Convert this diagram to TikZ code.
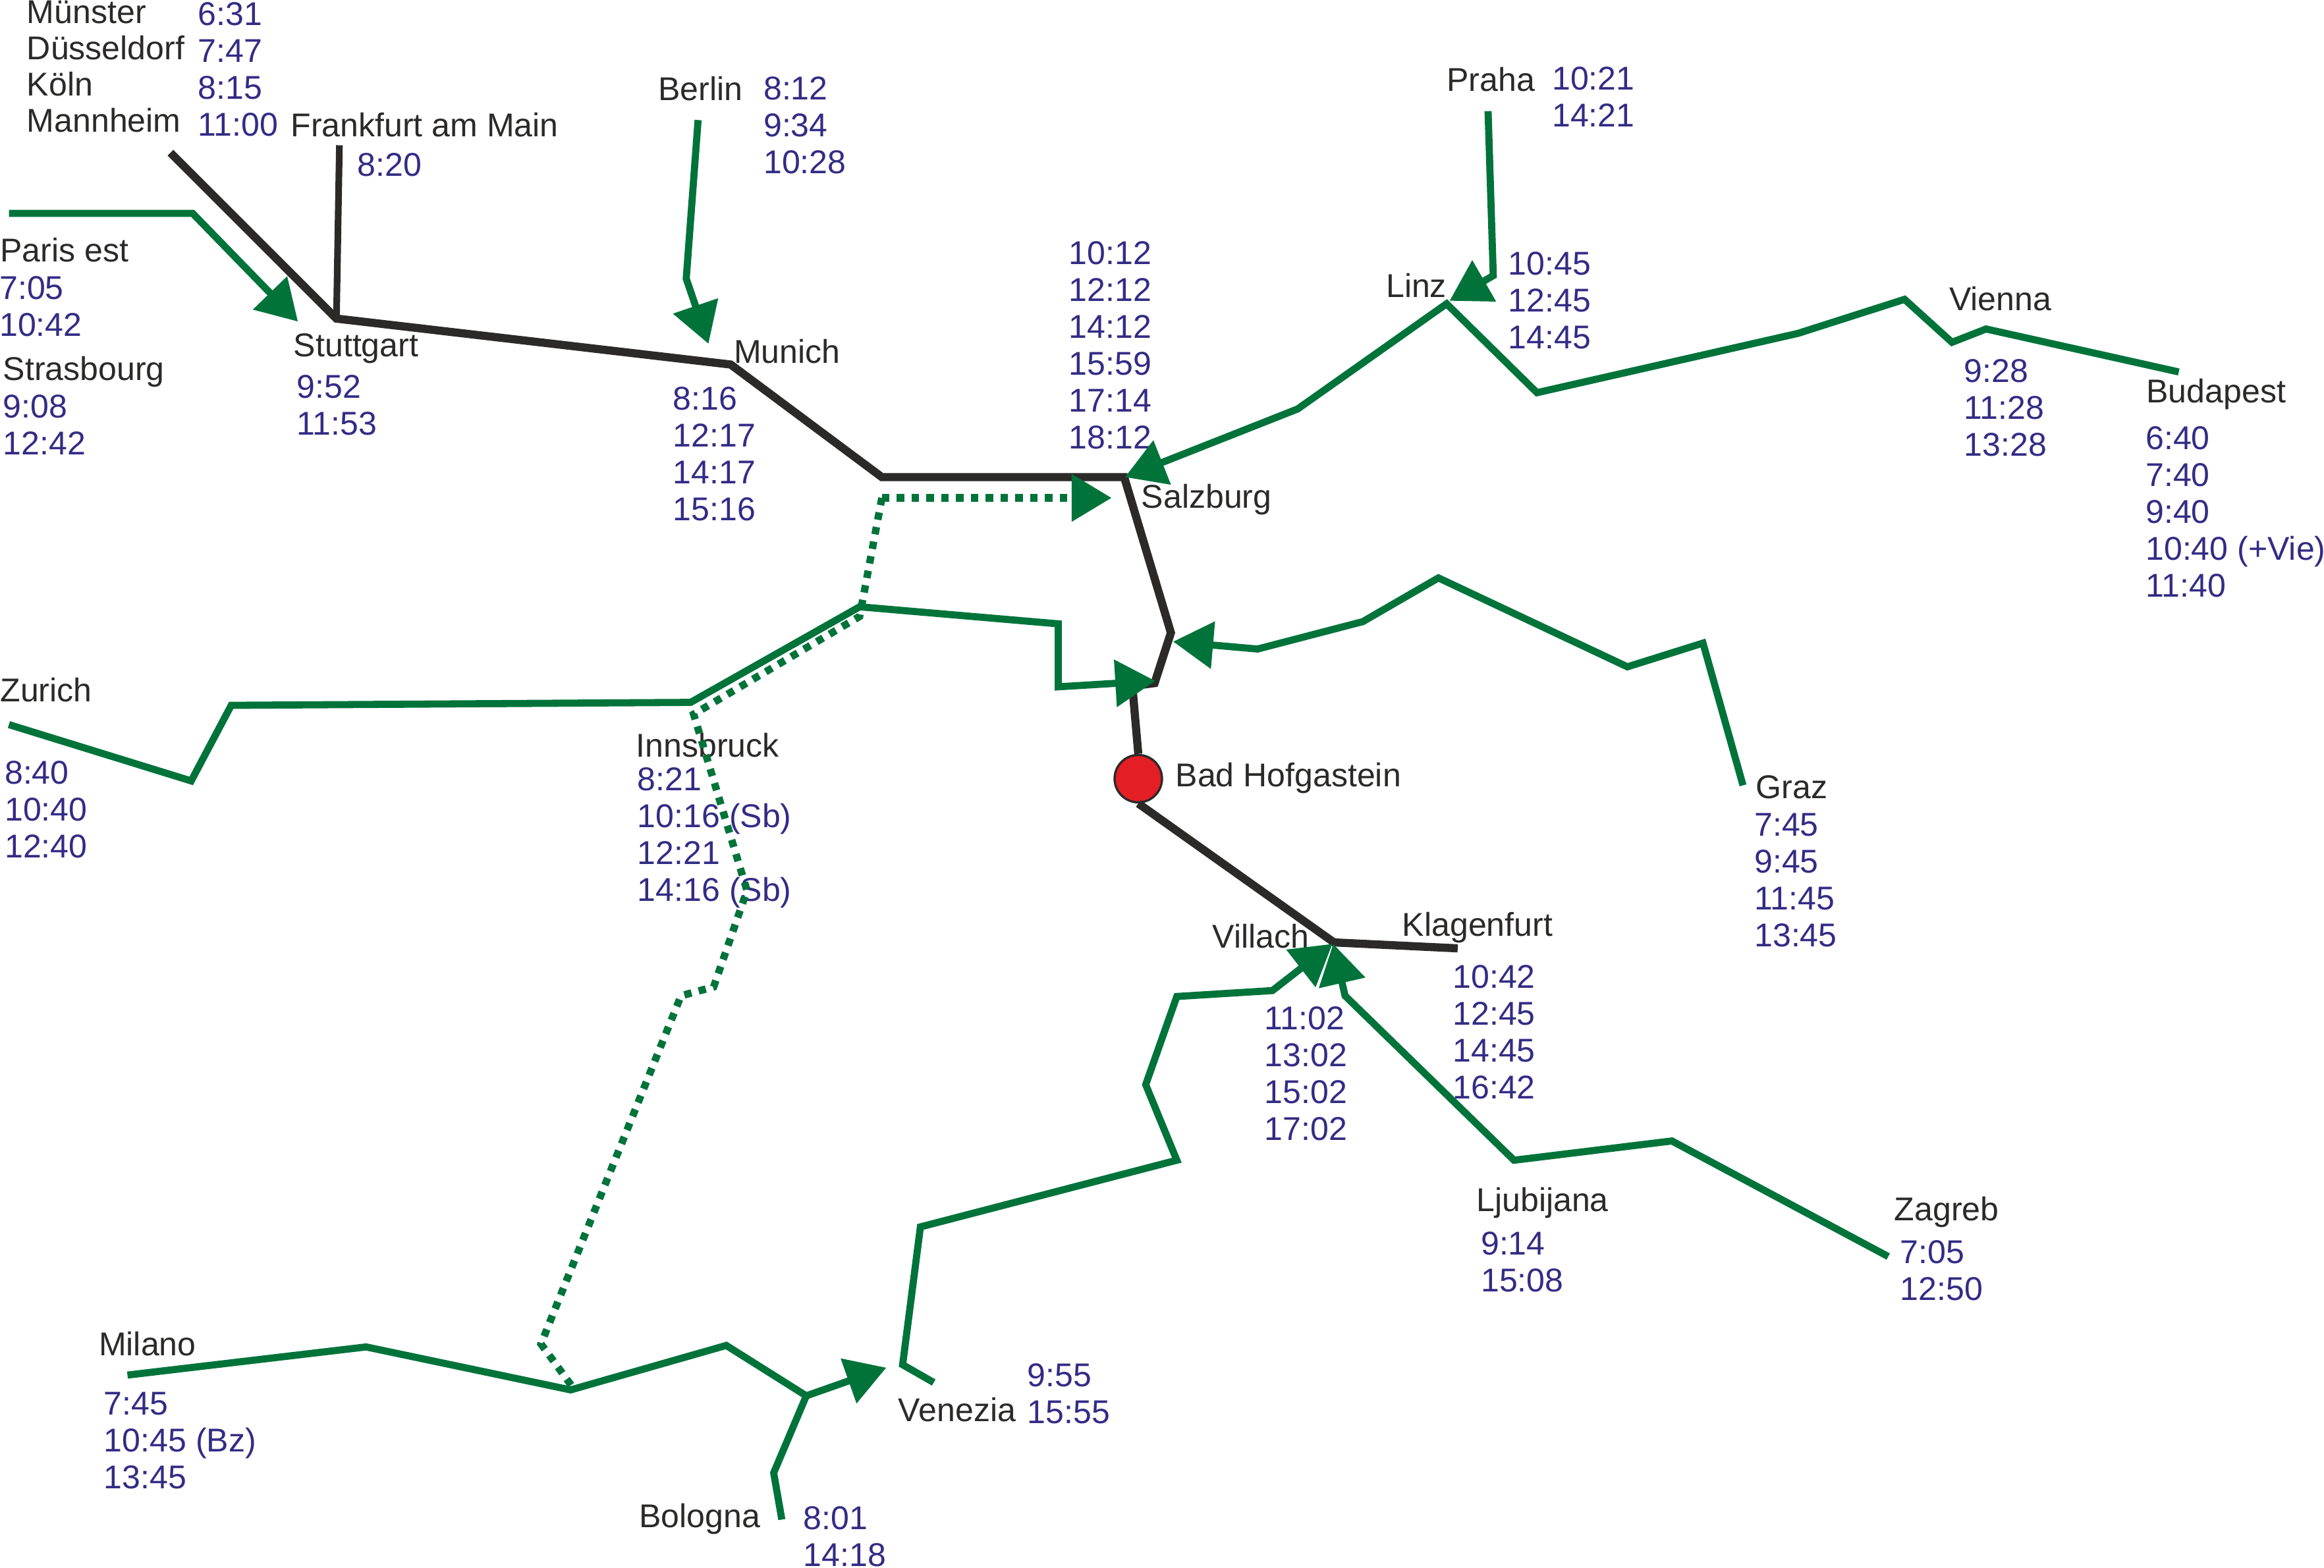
\documentclass[tikz,border=0pt]{standalone}
\usepackage{fontspec}
\setmainfont{Liberation Sans}
\usepackage{xcolor}
\usetikzlibrary{arrows.meta}
\definecolor{railblack}{HTML}{2B2A29}
\definecolor{railgreen}{HTML}{00733A}
\definecolor{timeblue}{HTML}{332C85}
\definecolor{stopred}{HTML}{E31E24}

\begin{document}
\begin{tikzpicture}[
    x=0.1mm, y=-0.1mm,
    city/.style={anchor=base west, inner sep=0pt, yshift=-0.2pt, align=left, text=railblack, font=\fontsize{6.33}{7.08}\selectfont},
    times/.style={anchor=base west, inner sep=0pt, yshift=-0.2pt, align=left, text=timeblue, font=\fontsize{6.33}{7.08}\selectfont},
    mainline/.style={draw=railblack, line width=0.55mm},
    branchline/.style={draw=railblack, line width=0.45mm},
    feeder/.style={draw=railgreen, line width=0.48mm},
    seasonal/.style={draw=railgreen, line width=0.5mm, dash pattern=on 0.5mm off 0.5mm},
    toward/.style={-{Triangle[length=2.7mm, width=3.1mm]}},
    hub/.style={circle, draw=railblack, fill=stopred, line width=0.15mm, minimum size=3.2mm, inner sep=0pt}
]
\useasboundingbox (0,0) rectangle (1568,1058.2);

% Place names
\node[city] (muenster) at (17.5,15) {Münster};
\node[city] (duesseldorf) at (17.5,39.5) {Düsseldorf};
\node[city] (koeln) at (17.5,64) {Köln};
\node[city] (mannheim) at (17.5,88.5) {Mannheim};
\node[city] (frankfurt) at (195.5,91.5) {Frankfurt am Main};
\node[city] (berlin) at (443.5,67) {Berlin};
\node[city] (praha) at (975.5,61) {Praha};
\node[city] (paris) at (-0.5,176) {Paris est};
\node[city] (strasbourg) at (1.5,256) {Strasbourg};
\node[city] (stuttgart) at (197.5,240) {Stuttgart};
\node[city] (munich) at (494.5,244.5) {Munich};
\node[city] (linz) at (934.5,200) {Linz};
\node[city] (vienna) at (1314.5,209) {Vienna};
\node[city] (budapest) at (1447.5,271) {Budapest};
\node[city] (salzburg) at (769.5,342) {Salzburg};
\node[city] (hofgastein) at (792.5,530) {Bad Hofgastein};
\node[city] (graz) at (1184,538) {Graz};
\node[city] (zurich) at (-0.5,473) {Zurich};
\node[city] (innsbruck) at (428.5,510) {Innsbruck};
\node[city] (villach) at (817.5,639) {Villach};
\node[city] (klagenfurt) at (945.5,631) {Klagenfurt};
\node[city] (ljubijana) at (995.5,817) {Ljubijana};
\node[city] (zagreb) at (1277.5,823) {Zagreb};
\node[city] (milano) at (66,914) {Milano};
\node[city] (venezia) at (605.5,958.5) {Venezia};
\node[city] (bologna) at (430.5,1030) {Bologna};

% Departure times
\node[times] (muenstertimes) at (133,91) {6:31\\7:47\\8:15\\11:00};
\node[times] (frankfurttimes) at (240.5,118) {8:20};
\node[times] (berlintimes) at (514.5,116.5) {8:12\\9:34\\10:28};
\node[times] (prahatimes) at (1046.5,85) {10:21\\14:21};
\node[times] (paristimes) at (-1,226) {7:05\\10:42};
\node[times] (strasbourgtimes) at (1.5,306) {9:08\\12:42};
\node[times] (stuttgarttimes) at (199.5,293) {9:52\\11:53};
\node[times] (munichtimes) at (453.5,350.5) {8:16\\12:17\\14:17\\15:16};
\node[times] (salzburgtimes) at (720.5,302) {10:12\\12:12\\14:12\\15:59\\17:14\\18:12};
\node[times] (linztimes) at (1017,234.5) {10:45\\12:45\\14:45};
\node[times] (viennatimes) at (1324.5,307) {9:28\\11:28\\13:28};
\node[times] (budapesttimes) at (1447,402) {6:40\\7:40\\9:40\\10:40 (+Vie)\\11:40};
\node[times] (graztimes) at (1183,638) {7:45\\9:45\\11:45\\13:45};
\node[times] (zurichtimes) at (2.5,578) {8:40\\10:40\\12:40};
\node[times] (innsbrucktimes) at (429.5,607.5) {8:21\\10:16 (Sb)\\12:21\\14:16 (Sb)};
\node[times] (villachtimes) at (852.5,769) {11:02\\13:02\\15:02\\17:02};
\node[times] (klagenfurttimes) at (979.5,741) {10:42\\12:45\\14:45\\16:42};
\node[times] (ljubijanatimes) at (998.5,871) {9:14\\15:08};
\node[times] (zagrebtimes) at (1281.5,877) {7:05\\12:50};
\node[times] (milanotimes) at (69.5,1004) {7:45\\10:45 (Bz)\\13:45};
\node[times] (veneziatimes) at (692.5,960) {9:55\\15:55};
\node[times] (bolognatimes) at (541.5,1056.5) {8:01\\14:18};

% Points along the lines
\foreach \name/\x/\y in {
    mannheimend/115/103, frankfurtend/229/98, stuttgartj/227/215, munichj/493/246, alpsj/595/322,
    salzburgj/758.5/322, bendone/790/427, bendtwo/779/461, bendthree/764/463, villachj/900/636,
    klagenfurtend/983.5/640,
    parisend/6/144, pariskink/130/144, paristip/201/217,
    berlinend/471/81, berlinkink/463/188, berlintip/478/232,
    prahaend/1004/75, prahakink/1007.5/186, linztip/978/203,
    budapestend/1470/251, budone/1340/222, budtwo/1317/231, budthree/1285/202, budfour/1213/225,
    budfive/1037/265, linzj/976/205, linzone/875.5/276, salzburgtip/759/322,
    grazend/1176/530, grazone/1149/434, graztwo/1098/450, grazthree/970.5/390, grazfour/919.5/419.5,
    grazfive/848.5/438, graztip/791.5/433,
    zurichend/6/489, zurichone/129/527, zurichtwo/156/476, innsbruckj/466/474, innsbruckout/580/409.5,
    innone/714/421, intwo/714/463.5, intip/779.5/459.5,
    dotj/595/336, dottip/750/336, dotone/580/416, dottwo/468/482, dotthree/504/601, dotfour/481.5/666,
    dotfive/459.5/672, dotsix/365/907, dotseven/385.5/935,
    milanoend/86/928, milanoone/247/909, milanoj/385/938, milanotwo/490/908, bolognaj/544/942, veneziatip/598/923,
    bolognaend/527.5/1025.5, bolognakink/522/994,
    veneziaend/630/933, veneziaone/609/921, veneziatwo/621/828, veneziathree/794/783,
    veneziafour/773/732, veneziafive/794/672.5, veneziasix/858.5/668.5, villachtip/899/637,
    zagrebend/1274/848, zagrebone/1128/770, zagrebtwo/1021.5/783, zagrebthree/907.5/672, zagrebtip/899.5/637}
    \coordinate (\name) at (\x,\y);

% Bad Hofgastein stop
\node[hub] (stop) at (768,525.5) {};

% Black lines
\draw[mainline] (mannheimend) -- (stuttgartj) -- (munichj) -- (alpsj) -- (salzburgj) -- (bendone) -- (bendtwo) -- (bendthree) -- (stop.north);
\draw[mainline] (stop.south) -- (villachj) -- (klagenfurtend);
\draw[branchline] (frankfurtend) -- (stuttgartj);

% Dotted lines
\draw[seasonal, toward] (dotj) -- (dottip);
\draw[seasonal] (dotj) -- (dotone) -- (dottwo) -- (dotthree) -- (dotfour) -- (dotfive) -- (dotsix) -- (dotseven);

% Green lines
\draw[feeder, toward] (parisend) -- (pariskink) -- (paristip);
\draw[feeder, toward] (berlinend) -- (berlinkink) -- (berlintip);
\draw[feeder, toward] (prahaend) -- (prahakink) -- (linztip);
\draw[feeder, toward] (budapestend) -- (budone) -- (budtwo) -- (budthree) -- (budfour) -- (budfive) -- (linzj) -- (linzone) -- (salzburgtip);
\draw[feeder, toward] (grazend) -- (grazone) -- (graztwo) -- (grazthree) -- (grazfour) -- (grazfive) -- (graztip);
\draw[feeder, toward] (zurichend) -- (zurichone) -- (zurichtwo) -- (innsbruckj) -- (innsbruckout) -- (innone) -- (intwo) -- (intip);
\draw[feeder, toward] (milanoend) -- (milanoone) -- (milanoj) -- (milanotwo) -- (bolognaj) -- (veneziatip);
\draw[feeder] (bolognaend) -- (bolognakink) -- (bolognaj);
\draw[feeder, toward] (veneziaend) -- (veneziaone) -- (veneziatwo) -- (veneziathree) -- (veneziafour) -- (veneziafive) -- (veneziasix) -- (villachtip);
\draw[feeder, toward] (zagrebend) -- (zagrebone) -- (zagrebtwo) -- (zagrebthree) -- (zagrebtip);
\end{tikzpicture}
\end{document}
